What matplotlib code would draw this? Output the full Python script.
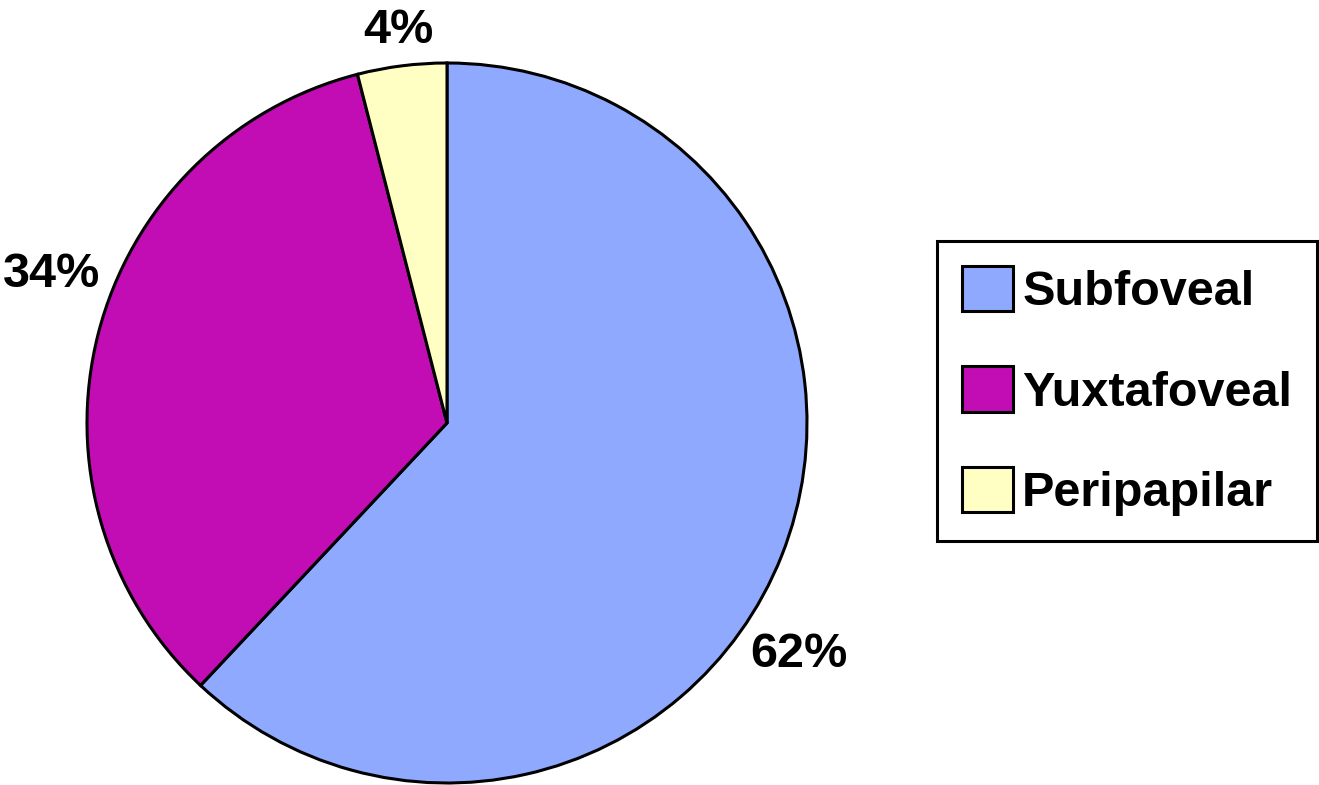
import matplotlib.pyplot as plt
import numpy as np

labels = ["Subfoveal", "Yuxtafoveal", "Peripapilar"]
values = [62, 34, 4]
colors = ["#8FA9FF", "#C20CB4", "#FFFFC4"]
pct_labels = ["62%", "34%", "4%"]
# label positions (radius, angle) relative to the pie
label_pos = [(1.17, -33.3), (1.175, 159.4), (1.1, 97.1)]

plt.rcParams['font.family'] = ['Liberation Sans', 'DejaVu Sans']


def main():
    fig = plt.figure(figsize=(13.19, 7.85), dpi=100)
    ax = fig.add_axes([87 / 1319, 2 / 785, 720 / 1319, 720 / 785])
    wedges, _ = ax.pie(values, colors=colors, startangle=90, counterclock=False,
                       radius=1.0,
                       wedgeprops=dict(edgecolor="black", linewidth=2.2))
    ax.set_xlim(-1, 1)
    ax.set_ylim(-1, 1)
    ax.set_aspect("equal")
    ax.axis("off")

    for txt, (r, a) in zip(pct_labels, label_pos):
        t = np.deg2rad(a)
        ax.text(r * np.cos(t), r * np.sin(t), txt, ha="center", va="center",
                fontsize=35, fontweight="bold", clip_on=False)

    leg = fig.legend(wedges, labels, loc="upper left",
                     bbox_to_anchor=(937 / 1319, 1 - 241 / 785),
                     prop=dict(weight="bold", size=35),
                     frameon=True, fancybox=False, framealpha=1,
                     handlelength=1.05, handleheight=1.05, handletextpad=0.18,
                     labelspacing=1.05, borderpad=0.52, borderaxespad=0)
    frame = leg.get_frame()
    frame.set_edgecolor("black")
    frame.set_linewidth(2.2)

    plt.savefig("out.png", dpi=100)


if __name__ == '__main__':
    main()
